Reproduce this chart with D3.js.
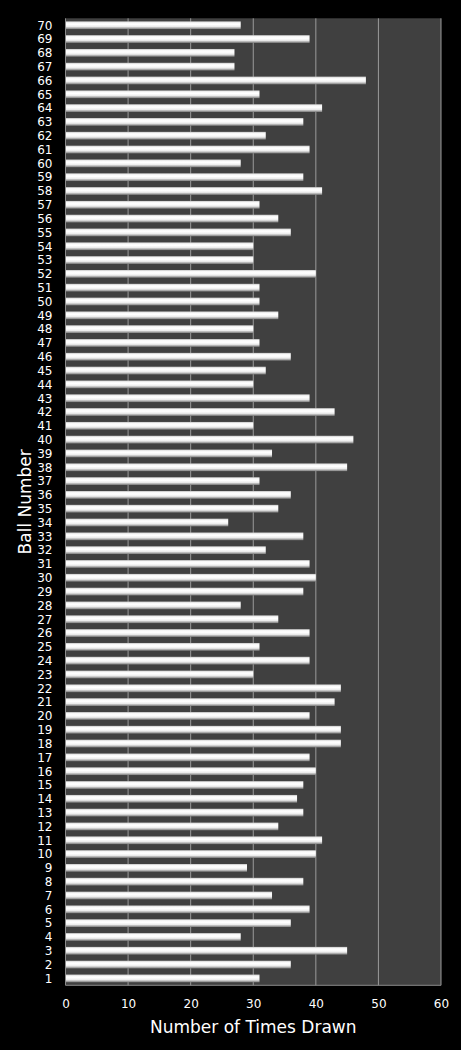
<!DOCTYPE html>
<html><head><meta charset="utf-8">
<script src="https://cdn.jsdelivr.net/npm/d3@7/dist/d3.min.js"></script>
<style>html,body{margin:0;padding:0;background:#000;}svg{display:block;}</style>
</head><body>
<script>
const balls = d3.range(1, 71);
const timesDrawn = [31,36,45,28,36,39,33,38,29,40,
                    41,34,38,37,38,40,39,44,44,39,
                    43,44,30,39,31,39,34,28,38,40,
                    39,32,38,26,34,36,31,45,33,46,
                    30,43,39,30,32,36,31,30,34,31,
                    31,40,30,30,36,34,31,41,38,28,
                    39,32,38,41,31,48,27,27,39,28];
const xTicks = [0,10,20,30,40,50,60];
const xTitle = "Number of Times Drawn";
const yTitle = "Ball Number";

const W = 461, H = 1050;
const m = {left: 65.5, right: 20, top: 18.3, bottom: 64.7};
const svg = d3.select("body").append("svg").attr("width", W).attr("height", H);
svg.append("rect").attr("width", W).attr("height", H).attr("fill", "#000");

const x = d3.scaleLinear().domain([0, 60]).range([m.left, W - m.right]);
const y = d3.scaleBand().domain(balls.slice().reverse()).range([m.top, H - m.bottom]).paddingInner(0.44).paddingOuter(0.22);

const defs = svg.append("defs");
const g = defs.append("linearGradient").attr("id", "bar").attr("x1", 0).attr("y1", 0).attr("x2", 0).attr("y2", 1);
[[0,"#c4c4c4"],[0.18,"#f8f8f8"],[0.4,"#ffffff"],[0.68,"#ececec"],[0.86,"#aaaaaa"],[1,"#7e7e7e"]]
  .forEach(([o,c]) => g.append("stop").attr("offset", o).attr("stop-color", c));

svg.append("rect").attr("x", x(0)).attr("y", m.top).attr("width", x(60) - x(0)).attr("height", H - m.bottom - m.top).attr("fill", "#404040");

svg.append("g").selectAll("line").data(xTicks.slice(1)).join("line")
  .attr("x1", d => x(d)).attr("x2", d => x(d)).attr("y1", m.top).attr("y2", H - m.bottom)
  .attr("stroke", "#9a9a9a").attr("stroke-width", 1);

svg.append("g").selectAll("rect").data(balls).join("rect")
  .attr("x", x(0)).attr("y", d => y(d))
  .attr("width", d => x(timesDrawn[d - 1]) - x(0))
  .attr("height", y.bandwidth())
  .attr("fill", "url(#bar)");

svg.append("line").attr("x1", x(0)).attr("x2", x(0)).attr("y1", m.top).attr("y2", H - m.bottom).attr("stroke", "#8a8a8a");
svg.append("line").attr("x1", x(0)).attr("x2", x(60)).attr("y1", H - m.bottom).attr("y2", H - m.bottom).attr("stroke", "#8a8a8a");

const font = "DejaVu Sans, Verdana, sans-serif";
const yAxis = svg.append("g").attr("transform", `translate(${x(0) - 13},0)`)
  .call(d3.axisLeft(y).tickSize(0).tickPadding(0));
yAxis.select(".domain").remove();
yAxis.selectAll("text").attr("fill", "#fff").attr("font-size", "12px").attr("font-family", font).attr("dy", "0.36em");

const xAxis = svg.append("g").attr("transform", `translate(0,${H - m.bottom + 14})`)
  .call(d3.axisBottom(x).tickValues(xTicks).tickSize(0).tickPadding(0));
xAxis.select(".domain").remove();
xAxis.selectAll("text").attr("fill", "#fff").attr("font-size", "12px").attr("font-family", font).attr("dy", "0.72em");

svg.append("text").attr("x", (x(0) + x(60)) / 2).attr("y", 1033).attr("text-anchor", "middle")
  .attr("fill", "#fff").attr("font-size", "17px").attr("font-family", font).text(xTitle);
svg.append("text").attr("transform", `translate(31,${(m.top + H - m.bottom) / 2}) rotate(-90)`).attr("text-anchor", "middle")
  .attr("fill", "#fff").attr("font-size", "17px").attr("font-family", font).text(yTitle);
</script>
</body></html>
